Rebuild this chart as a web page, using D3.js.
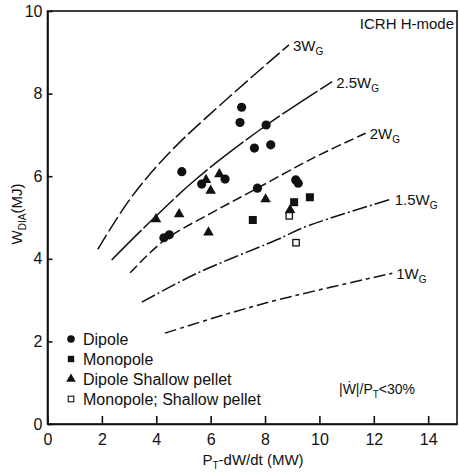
<!DOCTYPE html>
<html><head><meta charset="utf-8">
<script src="https://cdn.jsdelivr.net/npm/d3@7"></script>
<style>
body{margin:0;background:#fff}
svg{display:block}
text{font-family:"Liberation Sans",Arial,Helvetica,sans-serif;fill:#111}
</style>
</head><body>
<svg id="c" width="459" height="476"></svg>
<script>
// ---- data ----
const xTicks = [0, 2, 4, 6, 8, 10, 12, 14];
const yTicks = [0, 2, 4, 6, 8, 10];

const dipole = [[7.14,7.67],[7.08,7.30],[8.04,7.24],[7.61,6.68],[8.21,6.76],[4.94,6.11],
                [5.67,5.81],[6.53,5.93],[7.72,5.71],[9.13,5.91],[9.22,5.83],[4.28,4.51],[4.48,4.58]];
const monopole = [[7.55,4.94],[9.65,5.49],[9.07,5.37]];
const dipolePellet = [[3.99,4.96],[4.84,5.08],[5.83,5.91],[6.00,5.65],[6.32,6.05],[8.02,5.44],[5.92,4.64],[8.92,5.18]];
const monopolePellet = [[8.89,5.04],[9.14,4.39]];

const curve3W  = [[1.85,4.23],[3.04,5.45],[4.50,6.58],[6.65,7.90],[8.88,9.18]];
const curve25W = [[2.36,3.97],[3.53,4.74],[5.50,5.95],[8.06,7.24],[10.47,8.29]];
const curve2W  = [[3.04,3.66],[4.30,4.45],[6.00,5.10],[7.72,5.71],[9.80,6.45],[11.70,7.04]];
const curve15W = [[3.47,2.95],[5.50,3.65],[8.43,4.46],[9.50,4.78],[12.62,5.44]];
const curve1W  = [[4.32,2.20],[6.68,2.68],[8.55,3.02],[12.68,3.65]];
const curveFactors = ["3", "2.5", "2", "1.5", "1"];

const legendLabels = ["Dipole", "Monopole", "Dipole Shallow pellet", "Monopole; Shallow pellet"];

// ---- drawing ----
const svg = d3.select("#c");
const x = d3.scaleLinear().domain([0, 15.06]).range([47.5, 457]);
const y = d3.scaleLinear().domain([0, 10]).range([424, 11]);
const ink = "#111";

// frame
svg.append("rect").attr("x", x(0)).attr("y", y(10))
  .attr("width", x(15.06) - x(0)).attr("height", y(0) - y(10))
  .attr("fill", "none").attr("stroke", ink).attr("stroke-width", 1.6);

// axes with inward ticks
const xAxis = d3.axisBottom(x).tickValues(xTicks).tickSizeInner(-8).tickSizeOuter(0).tickPadding(12);
const gx = svg.append("g").attr("transform", `translate(0,${y(0)})`).call(xAxis);
gx.select(".domain").attr("stroke", ink).attr("stroke-width", 1.6);
gx.selectAll(".tick line").attr("stroke", ink).attr("stroke-width", 1.6);
gx.selectAll(".tick text").attr("font-size", 16).attr("font-family", "Liberation Sans, Arial, sans-serif").attr("fill", ink).attr("dy", "0.55em");

const yAxis = d3.axisLeft(y).tickValues(yTicks).tickSizeInner(-5).tickSizeOuter(0).tickPadding(5);
const gy = svg.append("g").attr("transform", `translate(${x(0)},0)`).call(yAxis);
gy.select(".domain").attr("stroke", ink).attr("stroke-width", 1.6);
gy.selectAll(".tick line").attr("stroke", ink).attr("stroke-width", 1.6);
gy.selectAll(".tick text").attr("font-size", 16).attr("font-family", "Liberation Sans, Arial, sans-serif").attr("fill", ink);

// axis titles
const xt = svg.append("text").attr("x", 253).attr("y", 465).attr("text-anchor", "middle").attr("font-size", 15);
xt.append("tspan").text("P");
xt.append("tspan").attr("font-size", 10).attr("dy", 4).text("T");
xt.append("tspan").attr("dy", -4).text("-dW/dt (MW)");

const yt = svg.append("text").attr("transform", "translate(22,214) rotate(-90)").attr("text-anchor", "middle").attr("font-size", 15);
yt.append("tspan").text("W");
yt.append("tspan").attr("font-size", 10).attr("dy", 4).text("DIA");
yt.append("tspan").attr("dy", -4).text("(MJ)");

// curves
const line = d3.line().x(d => x(d[0])).y(d => y(d[1])).curve(d3.curveCatmullRom.alpha(0.5));
const curveSets = [curve3W, curve25W, curve2W, curve15W, curve1W];
const dashes = ["17,4", "42,3", "10,4", "15,3,2,3", "12,4,4,4"];
curveSets.forEach((pts, i) => {
  svg.append("path").attr("d", line(pts)).attr("fill", "none")
    .attr("stroke", ink).attr("stroke-width", 1.5).attr("stroke-dasharray", dashes[i]);
  const end = pts[pts.length - 1];
  const t = svg.append("text").attr("x", x(end[0]) + 4).attr("y", y(end[1]) + 6).attr("font-size", 15);
  t.append("tspan").text(curveFactors[i] + "W");
  t.append("tspan").attr("font-size", 10).attr("dy", 4).text("G");
});

// markers
svg.append("g").selectAll("circle").data(dipole).join("circle")
  .attr("cx", d => x(d[0])).attr("cy", d => y(d[1])).attr("r", 4.6).attr("fill", ink);
svg.append("g").selectAll("rect").data(monopole).join("rect")
  .attr("x", d => x(d[0]) - 4).attr("y", d => y(d[1]) - 4).attr("width", 8).attr("height", 8).attr("fill", ink);
const tri = d3.symbol().type(d3.symbolTriangle).size(48);
svg.append("g").selectAll("path").data(dipolePellet).join("path")
  .attr("d", tri).attr("transform", d => `translate(${x(d[0])},${y(d[1])})`).attr("fill", ink);
svg.append("g").selectAll("rect").data(monopolePellet).join("rect")
  .attr("x", d => x(d[0]) - 3.2).attr("y", d => y(d[1]) - 3.2).attr("width", 6.4).attr("height", 6.4)
  .attr("fill", "#fff").attr("stroke", ink).attr("stroke-width", 1.3);

// legend
const lgx = 71, lgy0 = 339, lgStep = 20;
const lg = svg.append("g");
lg.append("circle").attr("cx", lgx).attr("cy", lgy0).attr("r", 3.8).attr("fill", ink);
lg.append("rect").attr("x", lgx - 3.2).attr("y", lgy0 + lgStep - 3.2).attr("width", 6.4).attr("height", 6.4).attr("fill", ink);
lg.append("path").attr("d", d3.symbol().type(d3.symbolTriangle).size(40)).attr("transform", `translate(${lgx},${lgy0 + 2 * lgStep})`).attr("fill", ink);
lg.append("rect").attr("x", lgx - 2.8).attr("y", lgy0 + 3 * lgStep - 2.8).attr("width", 5.6).attr("height", 5.6).attr("fill", "#fff").attr("stroke", ink).attr("stroke-width", 1.1);
legendLabels.forEach((s, i) => {
  lg.append("text").attr("x", 83).attr("y", lgy0 + i * lgStep + 6).attr("font-size", 16).text(s);
});

// annotations
svg.append("text").attr("x", 454).attr("y", 29).attr("text-anchor", "end").attr("font-size", 15).text("ICRH H-mode");
const an = svg.append("text").attr("x", 339).attr("y", 394).attr("font-size", 14);
an.append("tspan").text("|\u1E86|/P");
an.append("tspan").attr("font-size", 10).attr("dy", 4).text("T");
an.append("tspan").attr("dy", -4).text("<30%");
</script>
</body></html>
